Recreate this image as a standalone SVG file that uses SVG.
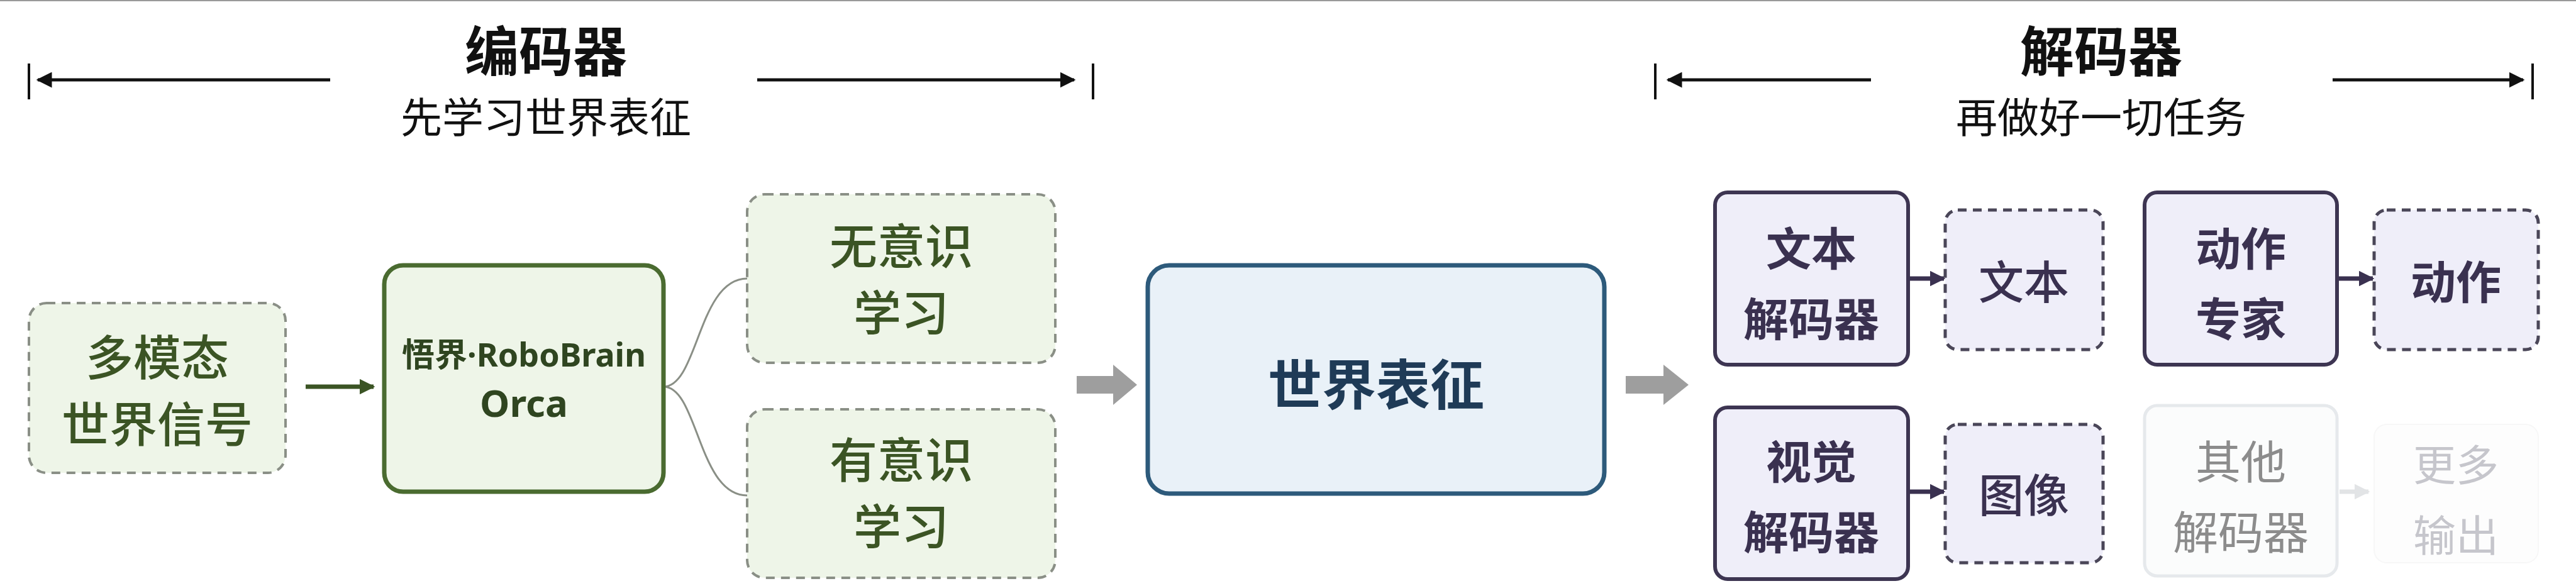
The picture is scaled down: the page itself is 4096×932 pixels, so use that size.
<svg xmlns="http://www.w3.org/2000/svg" width="4096" height="932" viewBox="0 0 4096 932">
<defs>
<style>
text{font-family:"Noto Sans CJK SC","Noto Sans",sans-serif;text-anchor:middle;dominant-baseline:central}
.t{font-size:86px;font-weight:700;fill:#111}
.s{font-size:66px;fill:#111}
.g{font-size:76px;fill:#3b5424;font-weight:500}
.d{font-size:72px;fill:#3a3150;font-weight:700}
.o{font-size:72px;fill:#3a3150;font-weight:500}
.dash-g{fill:#eef5e8;stroke:#8a8f86;stroke-width:4;stroke-dasharray:14 10}
.dash-p{fill:#efeef9;stroke:#4a4658;stroke-width:5;stroke-dasharray:14 10}
.solid-p{fill:#efeef9;stroke:#3d3552;stroke-width:6}
.hdr{stroke:#111;stroke-width:5;fill:none}
.tick{stroke:#111;stroke-width:4}
</style>
<marker id="ah" viewBox="0 0 10 10" refX="9" refY="5" markerWidth="5" markerHeight="5" orient="auto" markerUnits="strokeWidth"><path d="M0,0L10,5L0,10z" fill="#111"/></marker>
<marker id="ahg" viewBox="0 0 10 10" refX="9" refY="5" markerWidth="3.5" markerHeight="3.5" orient="auto" markerUnits="strokeWidth"><path d="M0,0L10,5L0,10z" fill="#3b5424"/></marker>
<marker id="ahp" viewBox="0 0 10 10" refX="9" refY="5" markerWidth="3.5" markerHeight="3.5" orient="auto" markerUnits="strokeWidth"><path d="M0,0L10,5L0,10z" fill="#3a3150"/></marker>
<marker id="ahl" viewBox="0 0 10 10" refX="9" refY="5" markerWidth="3.5" markerHeight="3.5" orient="auto" markerUnits="strokeWidth"><path d="M0,0L10,5L0,10z" fill="#e2e4e6"/></marker>
</defs>
<rect width="4096" height="932" fill="#fff"/>
<line x1="0" y1="1" x2="4096" y2="1" stroke="#999" stroke-width="2"/>

<g id="encoder-header">
<line class="tick" x1="46" y1="101" x2="46" y2="158"/>
<line class="hdr" x1="525" y1="127" x2="60" y2="127" marker-end="url(#ah)"/>
<line class="hdr" x1="1204" y1="127" x2="1708" y2="127" marker-end="url(#ah)"/>
<line class="tick" x1="1738" y1="101" x2="1738" y2="158"/>
<text class="t" x="868" y="76">编码器</text>
<text class="s" x="868" y="182">先学习世界表征</text>
</g>
<g id="decoder-header">
<line class="tick" x1="2632" y1="101" x2="2632" y2="158"/>
<line class="hdr" x1="2975" y1="127" x2="2652" y2="127" marker-end="url(#ah)"/>
<line class="hdr" x1="3709" y1="127" x2="4012" y2="127" marker-end="url(#ah)"/>
<line class="tick" x1="4027" y1="101" x2="4027" y2="158"/>
<text class="t" x="3341" y="76">解码器</text>
<text class="s" x="3341" y="182">再做好一切任务</text>
</g>

<g id="connectors">
<line x1="486" y1="615" x2="594" y2="615" stroke="#3b5424" stroke-width="7" marker-end="url(#ahg)"/>
<path d="M1055,615 C1110,615 1110,443 1188,443 M1055,615 C1110,615 1110,788 1188,788" fill="none" stroke="#8a8f86" stroke-width="3"/>
<path d="M1712,598 H1770 V580 L1808,612 L1770,644 V626 H1712 Z" fill="#9e9e9e"/>
<path d="M2585,598 H2645 V580 L2685,612 L2645,644 V626 H2585 Z" fill="#9e9e9e"/>
<line x1="3034" y1="443" x2="3091" y2="443" stroke="#3a3150" stroke-width="7" marker-end="url(#ahp)"/>
<line x1="3716" y1="443" x2="3773" y2="443" stroke="#3a3150" stroke-width="7" marker-end="url(#ahp)"/>
<line x1="3034" y1="782" x2="3091" y2="782" stroke="#3a3150" stroke-width="7" marker-end="url(#ahp)"/>
<line x1="3720" y1="782" x2="3766" y2="782" stroke="#e2e4e6" stroke-width="7" marker-end="url(#ahl)"/>
</g>

<g id="n-signal"><rect class="dash-g" x="46" y="482" width="408" height="270" rx="28"/>
<text class="g" x="250" y="564">多模态</text><text class="g" x="250" y="670">世界信号</text></g>
<g id="n-orca"><rect x="611" y="422" width="444" height="360" rx="30" fill="#eef5e8" stroke="#4a6b30" stroke-width="7"/>
<text x="833" y="562" style="font-family:'Noto Sans','Noto Sans CJK SC',sans-serif;font-size:52px;font-weight:700;fill:#2f4520">悟界·RoboBrain</text>
<text x="833" y="640" style="font-family:'Noto Sans',sans-serif;font-size:60px;font-weight:700;fill:#2f4520">Orca</text></g>
<g id="n-unconscious"><rect class="dash-g" x="1188" y="309" width="490" height="268" rx="28"/>
<text class="g" x="1433" y="387">无意识</text><text class="g" x="1433" y="493">学习</text></g>
<g id="n-conscious"><rect class="dash-g" x="1188" y="651" width="490" height="268" rx="28"/>
<text class="g" x="1433" y="727">有意识</text><text class="g" x="1433" y="833">学习</text></g>
<g id="n-world"><rect x="1825" y="422" width="726" height="363" rx="34" fill="#e9f1f8" stroke="#2d5a7b" stroke-width="7"/>
<text x="2188" y="606" style="font-size:86px;font-weight:700;fill:#1f3b57">世界表征</text></g>

<g id="n-textdec"><rect class="solid-p" x="2727" y="306" width="307" height="274" rx="20"/>
<text class="d" x="2880" y="390">文本</text><text class="d" x="2880" y="502">解码器</text></g>
<g id="n-text"><rect class="dash-p" x="3093" y="334" width="251" height="222" rx="20"/>
<text class="o" x="3218" y="443">文本</text></g>
<g id="n-action-exp"><rect class="solid-p" x="3410" y="306" width="306" height="274" rx="20"/>
<text class="d" x="3563" y="390">动作</text><text class="d" x="3563" y="502">专家</text></g>
<g id="n-action"><rect class="dash-p" x="3775" y="334" width="261" height="222" rx="20"/>
<text class="o" x="3905" y="443" style="font-weight:700">动作</text></g>
<g id="n-visdec"><rect class="solid-p" x="2727" y="648" width="307" height="273" rx="20"/>
<text class="d" x="2880" y="729">视觉</text><text class="d" x="2880" y="841">解码器</text></g>
<g id="n-image"><rect class="dash-p" x="3093" y="675" width="251" height="220" rx="20"/>
<text class="o" x="3218" y="782">图像</text></g>
<g id="n-otherdec"><rect x="3410" y="645" width="306" height="271" rx="20" fill="#fbfcfc" stroke="#e6e9ec" stroke-width="5"/>
<text x="3563" y="729" style="font-size:72px;fill:#8c8c8c">其他</text><text x="3563" y="841" style="font-size:72px;fill:#8c8c8c">解码器</text></g>
<g id="n-more"><rect x="3775" y="675" width="261" height="220" rx="20" fill="#fdfdfd" stroke="#f7f7f7" stroke-width="2"/>
<text x="3905" y="735" style="font-size:68px;fill:#c6c6cc">更多</text><text x="3905" y="847" style="font-size:68px;fill:#c6c6cc">输出</text></g>
</svg>
